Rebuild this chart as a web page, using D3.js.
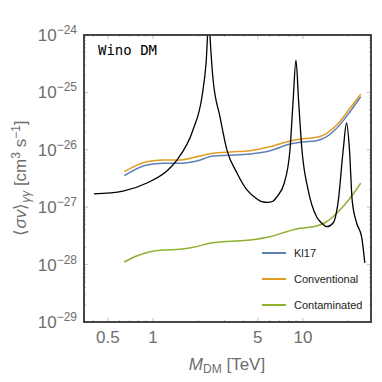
<!DOCTYPE html>
<html><head><meta charset="utf-8">
<script src="https://cdn.jsdelivr.net/npm/d3@7"></script>
<style>body{margin:0;background:#fff}svg{display:block}</style>
</head><body>
<svg id="c" width="382" height="382"></svg>
<script>
// ---- data ----
const blackM = [0.404,0.631,0.912,1.259,1.445,1.848,2.12,2.26,2.36,2.40,2.51,2.80,3.11,3.63,4.23,4.94,5.3,5.8,6.3,6.69,7.50,8.19,8.60,8.98,9.34,9.84,10.82,12.34,13.30,14.39,15.88,17.21,18.54,19.52,20.41,21.27,22.78,24.60,25.82];
const blackV = [1.70e-27,1.91e-27,2.64e-27,4.45e-27,6.64e-27,2.21e-26,8.32e-26,3.25e-25,2.0e-24,9.33e-25,1.78e-25,3.72e-26,1.0e-26,3.94e-27,2.0e-27,1.39e-27,1.25e-27,1.21e-27,1.27e-27,1.51e-27,2.64e-27,1.0e-26,7.38e-26,3.66e-25,7.38e-26,1.0e-26,2.0e-27,6.75e-28,5.31e-28,4.57e-28,5.31e-28,1.33e-27,1.0e-26,2.93e-26,1.0e-26,1.33e-27,5.31e-28,3.03e-28,1.07e-28];
const seriesM = [0.644,0.908,1.171,1.514,1.956,2.523,3.26,4.43,6.03,8.19,10.05,12.34,14.39,16.78,20.57,24.25];
const kl17 = [3.54e-27,5.43e-27,5.82e-27,5.82e-27,6.38e-27,7.80e-27,8.02e-27,8.45e-27,9.64e-27,1.26e-26,1.37e-26,1.44e-26,1.69e-26,2.37e-26,4.61e-26,8.41e-26];
const conventional = [4.16e-27,6.21e-27,6.64e-27,6.64e-27,7.59e-27,8.69e-27,9.16e-27,9.64e-27,1.13e-26,1.42e-26,1.56e-26,1.65e-26,1.94e-26,2.70e-26,5.28e-26,9.27e-26];
const greenM = [0.644,0.778,0.955,1.171,1.514,1.857,2.399,2.943,4.43,6.03,7.79,9.55,12.34,14.39,16.78,20.57,24.25];
const contaminated = [1.11e-28,1.41e-28,1.68e-28,1.79e-28,1.85e-28,2.0e-28,2.35e-28,2.51e-28,2.69e-28,3.06e-28,3.74e-28,4.29e-28,4.70e-28,5.58e-28,7.83e-28,1.43e-27,2.61e-27];
const xTicks = [0.5,1,5,10];
const xMinor = [0.4,0.6,0.7,0.8,0.9,2,3,4,6,7,8,9,20];
const yExps = [-29,-28,-27,-26,-25,-24];
const legendNames = ["Kl17","Conventional","Contaminated"];
const colors = ["#5E81B5","#E19C24","#8FB032"];

// ---- layout ----
const L=84,R=371,T=35,B=322;
const svg=d3.select("#c");
const x=d3.scaleLog().domain([0.347,28.4]).range([L,R]);
const y=d3.scaleLog().domain([1e-29,1e-24]).range([B,T]);

svg.append("defs").append("clipPath").attr("id","clip").append("rect")
  .attr("x",L).attr("y",T).attr("width",R-L).attr("height",B-T);

// ticks (inside frame)
const tg=svg.append("g").attr("stroke","#b0b0b0").attr("stroke-width",0.8);
xTicks.forEach(v=>{const px=x(v);
  tg.append("line").attr("x1",px).attr("x2",px).attr("y1",B).attr("y2",B-4);
  tg.append("line").attr("x1",px).attr("x2",px).attr("y1",T).attr("y2",T+4);});
xMinor.forEach(v=>{const px=x(v);
  tg.append("line").attr("x1",px).attr("x2",px).attr("y1",B).attr("y2",B-2);
  tg.append("line").attr("x1",px).attr("x2",px).attr("y1",T).attr("y2",T+2);});
yExps.forEach(e=>{
  const py=y(Math.pow(10,e));
  tg.append("line").attr("x1",L).attr("x2",L+4).attr("y1",py).attr("y2",py);
  tg.append("line").attr("x1",R).attr("x2",R-4).attr("y1",py).attr("y2",py);
  if(e<-24) for(let k=2;k<10;k++){const pm=y(k*Math.pow(10,e));
    tg.append("line").attr("x1",L).attr("x2",L+2).attr("y1",pm).attr("y2",pm);
    tg.append("line").attr("x1",R).attr("x2",R-2).attr("y1",pm).attr("y2",pm);}
});

// curves
const line=d3.line().x(d=>x(d[0])).y(d=>y(d[1])).curve(d3.curveMonotoneX);
const cg=svg.append("g").attr("clip-path","url(#clip)").attr("fill","none");
cg.append("path").datum(seriesM.map((m,i)=>[m,kl17[i]])).attr("d",line).attr("stroke",colors[0]).attr("stroke-width",1.5);
cg.append("path").datum(seriesM.map((m,i)=>[m,conventional[i]])).attr("d",line).attr("stroke",colors[1]).attr("stroke-width",1.5);
cg.append("path").datum(greenM.map((m,i)=>[m,contaminated[i]])).attr("d",line).attr("stroke",colors[2]).attr("stroke-width",1.5);
cg.append("path").datum(blackM.map((m,i)=>[m,blackV[i]])).attr("d",line).attr("stroke","#000").attr("stroke-width",1.3);

// frame
svg.append("rect").attr("x",L).attr("y",T).attr("width",R-L).attr("height",B-T)
  .attr("fill","none").attr("stroke","#333").attr("stroke-width",1.8);

// tick labels
const font="Liberation Sans, Arial, sans-serif";
xTicks.forEach(v=>{
  svg.append("text").attr("x",x(v)).attr("y",343).attr("text-anchor","middle")
    .attr("font-family",font).attr("font-size",17).attr("fill","#6e6e6e").text(v);
});
yExps.forEach(e=>{
  const t=svg.append("text").attr("x",77).attr("y",y(Math.pow(10,e))+6).attr("text-anchor","end")
    .attr("font-family",font).attr("font-size",17).attr("fill","#6e6e6e");
  t.append("tspan").text("10");
  t.append("tspan").attr("dy",-7).attr("font-size",12).text("\u2212"+(-e));
});

// axis labels
const xl=svg.append("text").attr("x",227).attr("y",370).attr("text-anchor","middle")
  .attr("font-family",font).attr("font-size",17).attr("fill","#6e6e6e");
xl.append("tspan").attr("font-style","italic").text("M");
xl.append("tspan").attr("font-size",12).attr("dy",3).text("DM");
xl.append("tspan").attr("dy",-3).text(" [TeV]");

const yl=svg.append("text").attr("transform","translate(26,178) rotate(-90)").attr("text-anchor","middle")
  .attr("font-family",font).attr("font-size",17).attr("fill","#6e6e6e");
yl.append("tspan").text("\u27E8");
yl.append("tspan").attr("font-style","italic").text("\u03C3v");
yl.append("tspan").text("\u27E9");
yl.append("tspan").attr("font-size",12).attr("font-style","italic").attr("dy",4).text("\u03B3\u03B3");
yl.append("tspan").attr("dy",-4).text(" [cm");
yl.append("tspan").attr("font-size",12).attr("dy",-6).text("3");
yl.append("tspan").attr("dy",6).text(" s");
yl.append("tspan").attr("font-size",12).attr("dy",-6).text("\u22121");
yl.append("tspan").attr("dy",6).text("]");

// in-plot title
svg.append("text").attr("x",98).attr("y",55).attr("font-family","DejaVu Sans Mono, monospace")
  .attr("font-size",14).attr("fill","#000").text("Wino DM");

// legend
const ly=[253,279,305];
legendNames.forEach((n,i)=>{
  svg.append("line").attr("x1",262).attr("x2",286).attr("y1",ly[i]).attr("y2",ly[i])
    .attr("stroke",colors[i]).attr("stroke-width",2);
  svg.append("text").attr("x",294).attr("y",ly[i]+4).attr("font-family",font)
    .attr("font-size",11).attr("fill","#222").text(n);
});
</script>
</body></html>
